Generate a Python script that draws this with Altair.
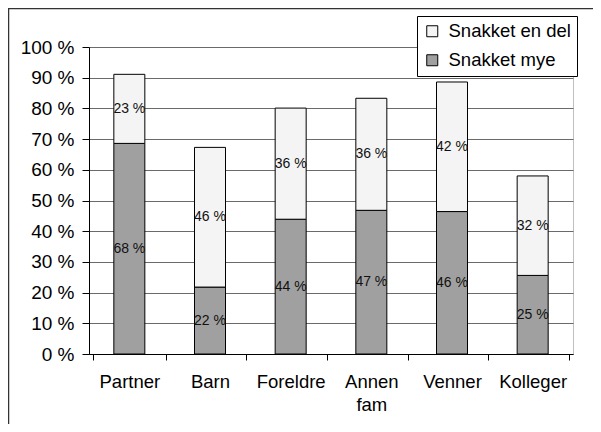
import altair as alt
import pandas as pd

categories = ["Partner", "Barn", "Foreldre", "Annen fam", "Venner", "Kolleger"]
series = ["Snakket en del", "Snakket mye"]
mye = [68.6, 21.8, 43.9, 46.8, 46.4, 25.6]
en_del = [22.5, 45.5, 36.2, 36.5, 42.2, 32.4]
mye_labels = ["68 %", "22 %", "44 %", "47 %", "46 %", "25 %"]
en_del_labels = ["23 %", "46 %", "36 %", "36 %", "42 %", "32 %"]
y_ticks = [0, 10, 20, 30, 40, 50, 60, 70, 80, 90, 100]

rows = []
for i, c in enumerate(categories):
    rows.append(dict(kat=c, serie="Snakket mye", verdi=mye[i], etikett=mye_labels[i], ord=0))
    rows.append(dict(kat=c, serie="Snakket en del", verdi=en_del[i], etikett=en_del_labels[i], ord=1))
df = pd.DataFrame(rows)

base = alt.Chart(df).transform_stack(
    stack="verdi", groupby=["kat"], as_=["y0", "y1"], sort=[alt.SortField("ord")]
).transform_calculate(mid="(datum.y0 + datum.y1) / 2")

x_axis = alt.Axis(
    labelAngle=0, tickBand="extent", tickSize=6, tickColor="black",
    domainColor="black", labelFontSize=18.5, labelColor="black",
    labelPadding=12, labelLineHeight=23,
    labelExpr="datum.label == 'Annen fam' ? ['Annen', 'fam'] : datum.label",
)
y_axis = alt.Axis(
    values=y_ticks, labelExpr="datum.value + ' %'", tickSize=7,
    tickColor="black", domainColor="black", gridColor="#6a6a6a",
    labelFontSize=19, labelColor="black", labelPadding=8,
    labelOverlap=False, labelFlush=False,
)
y_scale = alt.Scale(domain=[0, 100], nice=False)

bars = base.mark_bar(size=31, stroke="black", strokeWidth=1).encode(
    x=alt.X("kat:N", sort=categories, title=None, axis=x_axis),
    y=alt.Y("y0:Q", title=None, scale=y_scale, axis=y_axis),
    y2="y1:Q",
    color=alt.Color(
        "serie:N",
        scale=alt.Scale(domain=series, range=["#f4f4f4", "#a0a0a0"]),
        legend=alt.Legend(
            title=None, orient="none", legendX=328, legendY=-31,
            padding=6, strokeColor="black", fillColor="white",
            labelFontSize=18.5, labelColor="black", rowPadding=10,
            symbolType="square", symbolSize=121, symbolStrokeColor="black",
            symbolStrokeWidth=1, labelOffset=7,
        ),
    ),
)

text = base.mark_text(fontSize=14, color="#111111").encode(
    x=alt.X("kat:N", sort=categories, title=None, axis=x_axis),
    y=alt.Y("mid:Q", title=None, scale=y_scale, axis=y_axis),
    text="etikett:N",
)

border = alt.Chart(pd.DataFrame({"a": [0]})).mark_rect(
    fillOpacity=0, stroke="#333333", strokeWidth=1.5
).encode(
    x=alt.value(-80.5), x2=alt.value(540), y=alt.value(-38.5), y2=alt.value(420)
)

chart = alt.layer(border, bars, text).properties(
    width=484, height=307,
    padding={"left": 81, "top": 39, "right": 20, "bottom": 70},
    autosize="none",
).configure(font="Liberation Sans").configure_view(stroke="#c0c0c0")

chart.save("out.html", embed_options={"renderer": "svg", "actions": False})
